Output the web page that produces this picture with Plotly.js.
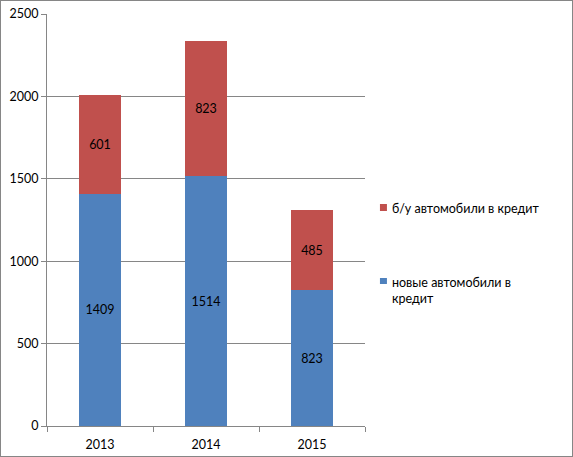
<!DOCTYPE html>
<html>
<head>
<meta charset="utf-8">
<script src="https://cdn.plot.ly/plotly-3.0.1.min.js"></script>
<style>
  body { margin: 0; background: #fff; }
  #chart { width: 571px; height: 455px; border: 1px solid #868686; }
</style>
</head>
<body>
<div id="chart"></div>
<script>
const years = ['2013', '2014', '2015'];
const newCars = [1409, 1514, 823];
const usedCars = [601, 823, 485];
const yTicks = [0, 500, 1000, 1500, 2000, 2500];
const names = ['новые автомобили в<br>кредит', 'б/у автомобили в кредит'];
const colors = ['#4f81bd', '#c0504d'];

function barTrace(vals, i) {
  return {
    x: years,
    y: vals,
    type: 'bar',
    name: names[i],
    marker: {color: colors[i]},
    text: vals.map(String),
    textposition: 'inside',
    insidetextanchor: 'middle',
    textfont: {color: '#000', size: 12.5},
    hoverinfo: 'none'
  };
}

// legend drawn by hand, Excel style: small square + text
const legendPos = [
  {sq: [0.3447, 0.3592], ty: 0.330},
  {sq: [0.5218, 0.5388], ty: 0.529}
];
const shapes = legendPos.map((p, i) => ({
  type: 'rect', xref: 'paper', yref: 'paper',
  x0: 1.047, x1: 1.069, y0: p.sq[0], y1: p.sq[1],
  fillcolor: colors[i], line: {width: 0}
}));
const annotations = legendPos.map((p, i) => ({
  xref: 'paper', yref: 'paper',
  x: 1.078, y: p.ty,
  xanchor: 'left', yanchor: 'middle', align: 'left',
  text: names[i], showarrow: false,
  font: {size: 12.5, color: '#000'}
}));

const layout = {
  width: 571,
  height: 455,
  barmode: 'stack',
  bargap: 0.6,
  paper_bgcolor: '#fff',
  plot_bgcolor: '#fff',
  font: {family: 'Lato, "Open Sans", sans-serif', size: 12.5, color: '#000'},
  margin: {l: 46, r: 207, t: 13, b: 30},
  showlegend: false,
  shapes: shapes,
  annotations: annotations,
  xaxis: {
    type: 'category',
    showline: true,
    linecolor: '#868686',
    ticks: 'outside',
    tickson: 'boundaries',
    ticklen: 5,
    tickcolor: '#868686',
    ticklabelstandoff: 7,
    showgrid: false
  },
  yaxis: {
    range: [0, 2500],
    tickvals: yTicks,
    showline: true,
    linecolor: '#868686',
    ticks: 'outside',
    ticklen: 5,
    tickcolor: '#868686',
    gridcolor: '#868686',
    zeroline: false
  }
};

Plotly.newPlot('chart', [barTrace(newCars, 0), barTrace(usedCars, 1)], layout, {displayModeBar: false, staticPlot: true});
</script>
</body>
</html>
